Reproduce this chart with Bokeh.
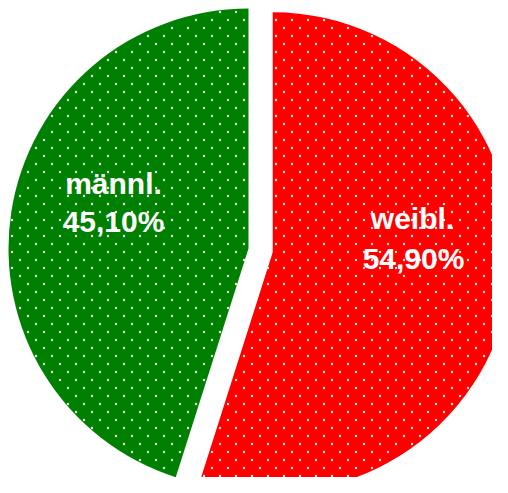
import math
import numpy as np
from bokeh.plotting import figure
from bokeh.models import ColumnDataSource
from bokeh.core.properties import value
from bokeh.embed import file_html
from bokeh.resources import INLINE

# ---- data ----
categories = ["weibl.", "männl."]
shares = [54.90, 45.10]
pct_labels = ["54,90%", "45,10%"]
colors = ["#FF0000", "#008000"]
exploded = [True, False]

W, H = 492, 477
R = 240.0
CX, CY = 248.0, 229.0
EXPLODE = 24.5
DOT_STEP = 16  # pattern tile size (px)

p = figure(width=W, height=H, x_range=(0, W), y_range=(0, H),
           output_backend="svg", toolbar_location=None, min_border=0)
p.xaxis.visible = False
p.yaxis.visible = False
p.xgrid.visible = False
p.ygrid.visible = False
p.outline_line_color = None
p.background_fill_color = "white"
p.border_fill_color = "white"

# weibl. clockwise from 12 o'clock, männl. counter-clockwise from 12 o'clock
total = sum(shares)
starts, ends, xs, ys = [], [], [], []
a_top = math.pi / 2
w_sweep = 2 * math.pi * shares[0] / total
m_sweep = 2 * math.pi * shares[1] / total
spans = [(a_top - w_sweep, a_top), (a_top, a_top + m_sweep)]
for (s, e), ex in zip(spans, exploded):
    mid = (s + e) / 2
    d = EXPLODE if ex else 0.0
    starts.append(s)
    ends.append(e)
    xs.append(CX + d * math.cos(mid))
    ys.append(CY + d * math.sin(mid))

src = ColumnDataSource(dict(x=xs, y=ys, start=starts, end=ends, color=colors))
p.wedge(x="x", y="y", radius=R, start_angle="start", end_angle="end",
        fill_color="color", line_color=None, source=src)

# dotted fill texture: staggered lattice of small white dots clipped to each slice
gx1, gy1 = np.meshgrid(np.arange(3.5, W, DOT_STEP), np.arange(3.5, H + DOT_STEP, DOT_STEP))
gx2, gy2 = np.meshgrid(np.arange(11.5, W, DOT_STEP), np.arange(11.5, H + DOT_STEP, DOT_STEP))
px = np.concatenate([gx1.ravel(), gx2.ravel()])
py = H - np.concatenate([gy1.ravel(), gy2.ravel()])  # screen rows -> data y
keep = np.zeros(px.shape, dtype=bool)
for cx, cy, s, e in zip(xs, ys, starts, ends):
    dx, dy = px - cx, py - cy
    r = np.hypot(dx, dy)
    ang = np.mod(np.arctan2(dy, dx) - s, 2 * np.pi)
    keep |= (r < R - 1.5) & (ang < (e - s)) & (r > 2)
p.scatter(px[keep], py[keep], size=2.4, fill_color="white", fill_alpha=0.9,
          line_color=None)

# label anchors (pixel positions inside the plot)
name_pos = [(412, 259), (113, 294)]
pct_pos = [(413, 219), (113, 256)]
for i in range(2):
    p.text(x=[name_pos[i][0]], y=[name_pos[i][1]], text=[categories[i]],
           text_color="white", text_font=value("Liberation Sans"),
           text_font_style="bold", text_font_size="30px",
           text_align="center", text_baseline="middle")
    p.text(x=[pct_pos[i][0]], y=[pct_pos[i][1]], text=[pct_labels[i]],
           text_color="white", text_font=value("Liberation Sans"),
           text_font_style="bold", text_font_size="30px",
           text_align="center", text_baseline="middle")

open("out.html", "w").write(file_html(p, INLINE))
